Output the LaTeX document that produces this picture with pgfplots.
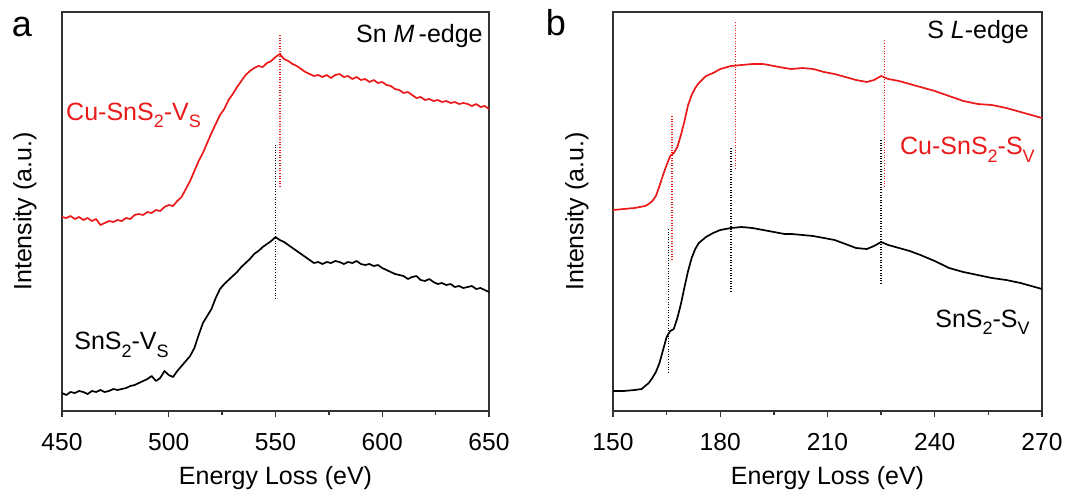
\documentclass[border=0pt]{standalone}
\usepackage{pgfplots}
\pgfplotsset{compat=1.18}
\usepackage{fontspec}
\setmainfont{Liberation Sans}
\definecolor{myred}{RGB}{235,25,25}
\newcommand{\sub}[1]{\raisebox{-0.55ex}{\fontsize{9}{10}\selectfont #1}}
\pgfplotsset{
  myax/.style={
    scale only axis, height=199.5pt,
    axis line style={line width=0.8pt, black!80},
    ymin=0, ymax=399, ytick=\empty,
    xtick pos=bottom, tick align=outside,
    major tick length=3pt, minor tick length=1.8pt,
    minor x tick num=1,
    every tick/.style={black!80, line width=0.7pt},
    /pgf/number format/assume math mode=true,
    tick label style={font=\fontsize{12.3}{14}\selectfont},
    every x tick label/.append style={yshift=-4.5pt},
    clip=false,
  },
  curve/.style={line width=0.85pt, line join=round},
  dots/.style={line width=0.75pt, dash pattern=on 0.55pt off 0.75pt},
}
\begin{document}
\begin{tikzpicture}
\useasboundingbox (0,0) rectangle (535pt,247.5pt);
\begin{axis}[myax, width=213.5pt, at={(31pt,42pt)}, anchor=south west,
  xmin=450, xmax=650, xtick={450,500,...,650}]
\addplot[curve, myred] coordinates {
(450,194)(452,193)(454,195)(456,192)(458,194)(460,191)(462,193)(464,190)(466,192)(468,186)
(470,188)(472,190)(474,189)(476,191)(478,190)(480,193)(482,192)(484,196)(486,197)(488,196)
(490,199)(492,198)(494,201)(496,200)(498,204)(500,206)(502,205)(504,210)(506,214)(508,222)
(510,230)(512,240)(514,250)(516,258)(518,268)(520,278)(522,287)(524,296)(526,302)(528,311)
(530,317)(532,324)(534,330)(536,336)(538,340)(540,343)(542,345)(544,344)(546,348)(548,350)
(550,354)(552,357)(554,352)(556,350)(558,347)(560,345)(562,342)(564,339)(566,337)(568,335)
(570,336)(572,334)(574,336)(576,333)(578,336)(580,337)(582,334)(584,335)(586,332)(588,334)
(590,331)(592,332)(594,329)(596,331)(598,328)(600,329)(602,326)(604,325)(606,322)(608,321)
(610,318)(612,319)(614,316)(616,313)(618,314)(620,311)(622,312)(624,310)(626,311)(628,309)
(630,310)(632,308)(634,309)(636,307)(638,308)(640,307)(642,305)(644,307)(646,304)(648,305)
(650,302)};
\addplot[curve, black] coordinates {
(450,18)(452,16)(454,19)(456,18)(458,20)(460,19)(462,17)(464,20)(466,19)(468,21)
(470,19)(472,20)(474,22)(476,21)(478,22)(480,23)(482,25)(484,26)(486,28)(488,30)
(490,32)(492,35)(494,30)(496,33)(498,40)(500,36)(502,34)(504,40)(506,45)(508,50)
(510,55)(512,63)(514,76)(516,88)(518,95)(520,102)(522,113)(524,122)(526,127)(528,131)
(530,135)(532,139)(534,144)(536,148)(538,152)(540,157)(542,160)(544,164)(546,167)(548,170)
(550,174)(552,171)(554,169)(556,166)(558,163)(560,160)(562,157)(564,154)(566,151)(568,148)
(570,149)(572,147)(574,149)(576,148)(578,150)(580,149)(582,147)(584,149)(586,148)(588,150)
(590,147)(592,146)(594,147)(596,145)(598,146)(600,143)(602,141)(604,139)(606,137)(608,136)
(610,135)(612,132)(614,134)(616,135)(618,131)(620,130)(622,132)(624,129)(626,127)(628,128)
(630,126)(632,127)(634,124)(636,125)(638,123)(640,124)(642,125)(644,122)(646,123)(648,121)
(650,119)};
\addplot[dots, myred] coordinates {(552,224)(552,376)};
\addplot[dots, black] coordinates {(550,112)(550,266)};
\node[anchor=east, inner sep=0pt, font=\fontsize{12.5}{15}\selectfont] at (rel axis cs:0.986,0.94) {Sn \textit{M}\,-edge};
\node[anchor=base west, inner sep=0pt, text=myred, font=\fontsize{12.5}{15}\selectfont] at (rel axis cs:0.009,0.729) {Cu-SnS\sub{2}-V\sub{S}};
\node[anchor=base west, inner sep=0pt, font=\fontsize{12.5}{15}\selectfont] at (rel axis cs:0.028,0.153) {SnS\sub{2}-V\sub{S}};
\node[rotate=90, font=\fontsize{12.5}{15}\selectfont] at (rel axis cs:-0.087,0.5) {Intensity (a.u.)};
\node[font=\fontsize{12.5}{15}\selectfont] at (rel axis cs:0.5,-0.168) {Energy Loss (eV)};
\end{axis}
\begin{axis}[myax, width=214.5pt, at={(306.5pt,42pt)}, anchor=south west,
  xmin=150, xmax=270, xtick={150,180,...,270}]
\addplot[curve, myred] coordinates {
(150,201)(153,202)(156,203)(159,205)(160,207)(161,210)(162,215)(163,225)(164,236)(165,246)
(166,255)(167,258)(168,264)(169,276)(170,290)(171,306)(172,316)(173,323)(174,328)(176,335)
(178,338)(180,342)(183,345)(186,346)(189,347)(192,347)(195,345)(198,343)(200,342)(203,343)
(206,342)(209,339)(212,337)(215,334)(218,331)(221,329)(223,331)(225,335)(227,332)(230,330)
(233,327)(236,324)(240,320)(244,315)(248,310)(252,307)(256,306)(260,303)(264,299)(267,296)
(270,293)};
\addplot[curve, black] coordinates {
(150,20)(153,20)(156,21)(158,22)(160,28)(161,33)(162,39)(163,48)(164,61)(165,74)
(166,80)(167,82)(168,93)(169,107)(170,124)(171,140)(172,153)(173,162)(174,168)(176,174)
(178,178)(180,181)(183,183)(186,184)(189,183)(192,181)(195,179)(198,177)(200,177)(203,176)
(206,175)(209,173)(212,171)(215,167)(218,163)(221,162)(223,165)(225,169)(227,166)(230,163)
(233,160)(236,156)(240,150)(244,143)(248,139)(252,136)(256,133)(260,131)(264,128)(267,125)
(270,122)};
\addplot[dots, myred] coordinates {(166.5,151)(166.5,296)};
\addplot[dots, myred] coordinates {(184.3,242)(184.3,390)};
\addplot[dots, myred] coordinates {(226,224)(226,372)};
\addplot[dots, black] coordinates {(165.5,38)(165.5,182)};
\addplot[dots, black] coordinates {(183,119)(183,264)};
\addplot[dots, black] coordinates {(225,127)(225,272)};
\node[anchor=east, inner sep=0pt, font=\fontsize{12.5}{15}\selectfont] at (rel axis cs:0.970,0.95) {S \textit{L}-edge};
\node[anchor=base east, inner sep=0pt, text=myred, font=\fontsize{12.5}{15}\selectfont] at (rel axis cs:0.984,0.642) {Cu-SnS\sub{2}-S\sub{V}};
\node[anchor=base east, inner sep=0pt, font=\fontsize{12.5}{15}\selectfont] at (rel axis cs:0.972,0.209) {SnS\sub{2}-S\sub{V}};
\node[rotate=90, font=\fontsize{12.5}{15}\selectfont] at (rel axis cs:-0.084,0.5) {Intensity (a.u.)};
\node[font=\fontsize{12.5}{15}\selectfont] at (rel axis cs:0.5,-0.168) {Energy Loss (eV)};
\end{axis}
\node[font=\fontsize{18}{20}\selectfont] at (11pt,234pt) {a};
\node[font=\fontsize{18}{20}\selectfont] at (278pt,236pt) {b};
\end{tikzpicture}
\end{document}
